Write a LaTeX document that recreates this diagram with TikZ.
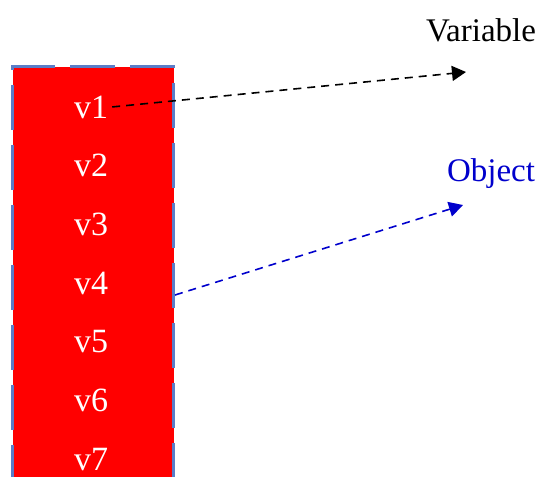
\documentclass[tikz,border=0pt]{standalone}
\usepackage{fontspec}
\setmainfont{Liberation Serif}
\usetikzlibrary{arrows.meta,positioning}
\definecolor{boxred}{RGB}{255,0,0}
\definecolor{edgeblue}{RGB}{90,125,200}
\definecolor{objblue}{RGB}{0,0,204}

\begin{document}
\begin{tikzpicture}[x=1pt, y=-1pt,
  vbox/.style={rectangle, fill=boxred, draw=edgeblue, line width=3pt,
               dash pattern=on 45pt off 15pt, inner sep=0pt,
               minimum width=161pt, minimum height=440pt},
  vlabel/.style={font=\fontsize{34}{38}\selectfont, text=white, anchor=base, inner sep=4pt},
  ptr/.style={-{Triangle[length=14pt, width=15pt]}, line width=1.6pt,
              dash pattern=on 8pt off 6pt},
  title/.style={font=\fontsize{33}{36}\selectfont, anchor=base}
]
\clip (0,0) rectangle (544,477);

% Variable table
\node[vbox, anchor=north west] (table) at (11,65) {};
\foreach \i in {1,...,7} {
  \node[vlabel] (v\i) at (91, 118+58.7*\i-58.7) {v\i};
}

% Targets
\node[title] (var) at (481,41) {Variable};
\node[title, text=objblue] (obj) at (491,181) {Object};
\coordinate (varend) at (466,72);
\coordinate (objstart) at (175,295);
\coordinate (objend) at (463,205);

% Pointers
\draw[ptr, black] (v1.east) -- (varend);
\draw[ptr, objblue] (objstart) -- (objend);
\end{tikzpicture}
\end{document}
